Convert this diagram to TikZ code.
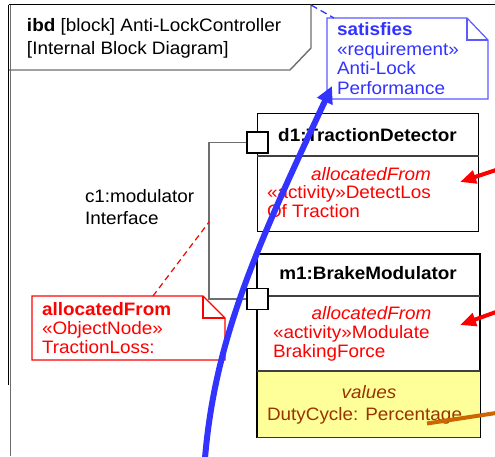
\documentclass[tikz,border=0pt]{standalone}
\usepackage{fontspec}
\setmainfont{Liberation Sans}[FakeStretch=1.05]
\usetikzlibrary{arrows.meta}

\definecolor{reqblue}{RGB}{51,51,255}
\definecolor{reqborder}{RGB}{90,90,255}
\definecolor{allocred}{RGB}{255,0,0}
\definecolor{valbrown}{RGB}{153,51,0}
\definecolor{valfill}{RGB}{255,255,153}
\definecolor{traceorange}{RGB}{204,102,0}
\definecolor{linegray}{RGB}{110,110,110}

\begin{document}
\fontsize{18}{19.5}\selectfont
\begin{tikzpicture}[x=1pt,y=-1pt,
  txt/.style={inner sep=0pt, outer sep=0pt, anchor=base west},
  ctxt/.style={inner sep=0pt, outer sep=0pt, anchor=base},
  blockbox/.style={draw=black, line width=1.3pt, fill=white, inner sep=0pt, anchor=north west},
  blockline/.style={draw=black, line width=1.3pt},
  divider/.style={draw=black!75, line width=1.2pt},
  portbox/.style={draw=black, line width=1.1pt, fill=white, minimum size=21pt, inner sep=0pt},
  connector/.style={draw=linegray, line width=1.5pt},
  framebar/.style={draw=linegray, line width=1.4pt},
  satisfyarrow/.style={draw=reqblue, line width=6pt, -{Triangle[length=17pt,width=16pt]}},
  allocarrow/.style={draw=allocred, line width=4pt, -{Triangle[length=16pt,width=13pt]}},
  tracelink/.style={draw=traceorange, line width=4pt},
]
\useasboundingbox (0,0) rectangle (495,456);

% diagram frame
\draw[draw=black, line width=1.3pt] (8.5,4.5) -- (495,4.5);
\draw[draw=black, line width=1.2pt] (8.5,4.5) -- (8.5,385);
\draw[framebar] (10.5,4.5) -- (10.5,456);
\draw[framebar] (311,4.5) -- (311,48) -- (290,70) -- (9,70);
\node[txt] (hdr1) at (27,31) {\textbf{ibd} [block] Anti-LockController};
\node[txt] (hdr2) at (27,54) {[Internal Block Diagram]};

% requirement note
\coordinate (rqA) at (327,18);
\coordinate (rqB) at (488,99);
\fill[white] (327,18) -- (467,18) -- (488,40) -- (488,99) -- (327,99) -- cycle;
\draw[draw=reqborder, line width=1.2pt] (327,18) -- (467,18) -- (488,40) -- (488,99) -- (327,99) -- cycle;
\draw[draw=reqborder, line width=1.2pt] (467,18) -- (467,40) -- (488,40);
\node[txt, text=reqblue, font=\bfseries] (rq1) at (337,35.5) {satisfies};
\node[txt, text=reqblue] (rq2) at (337,55) {«requirement»};
\node[txt, text=reqblue] (rq3) at (337,74.5) {Anti-Lock};
\node[txt, text=reqblue] (rq4) at (337,94) {Performance};
\coordinate (hdrCorner) at (311,5);
\coordinate (rqCorner) at (334,18);
\draw[draw=reqblue, line width=1.3pt, dash pattern=on 7pt off 4pt] (hdrCorner) -- (rqCorner);

% part d1
\node[blockbox, minimum width=221pt, minimum height=118pt] (d1) at (257,113) {};
\draw[divider] ([yshift=-43pt]d1.north west) -- ([yshift=-43pt]d1.north east);
\node[ctxt, font=\bfseries] (d1t) at (367.5,141) {d1:TractionDetector};
\node[ctxt, text=allocred, font=\itshape] (d1a) at (371,180) {allocatedFrom};
\node[txt, text=allocred] (d1b) at (267,198.5) {«activity»DetectLos};
\node[txt, text=allocred] (d1c) at (267,217) {Of Traction};

% part m1
\node[blockbox, minimum width=222pt, minimum height=182pt] (m1) at (257,254) {};
\fill[valfill] ([yshift=-117pt]m1.north west) rectangle (m1.south east);
\draw[blockline] (m1.north west) rectangle (m1.south east);
\draw[divider] ([yshift=-42pt]m1.north west) -- ([yshift=-42pt]m1.north east);
\draw[divider] ([yshift=-117pt]m1.north west) -- ([yshift=-117pt]m1.north east);
\draw[draw=valbrown!70!black, line width=1.3pt] (m1.south west) -- (m1.south east);
\node[ctxt, font=\bfseries] (m1t) at (368,279.5) {m1:BrakeModulator};
\node[ctxt, text=allocred, font=\itshape] (m1a) at (371.5,319) {allocatedFrom};
\node[txt, text=allocred] (m1b) at (273,338) {«activity»Modulate};
\node[txt, text=allocred] (m1c) at (273,357) {BrakingForce};
\node[ctxt, text=valbrown, font=\itshape] (m1v) at (369,398) {values};
\node[txt, text=valbrown] (m1d) at (267,420) {DutyCycle: Percentage};

% ports and connector c1
\node[portbox] (p1) at (257.5,142.5) {};
\node[portbox] (p2) at (257.5,299) {};
\coordinate (c1bend) at (209,142.5);
\draw[connector] (p1.west) -- (c1bend) |- (p2.west);
\node[txt] (c1a) at (85,202) {c1:modulator};
\node[txt] (c1b) at (85,224.5) {Interface};

% allocation note on the connector
\fill[white] (32,296) -- (203,296) -- (225,318) -- (225,360) -- (32,360) -- cycle;
\draw[draw=allocred, line width=1.1pt] (32,296) -- (203,296) -- (225,318) -- (225,360) -- (32,360) -- cycle;
\draw[draw=allocred, line width=1.1pt] (203,296) -- (203,318) -- (225,318);
\node[txt, text=allocred, font=\bfseries] (an1) at (42,315.5) {allocatedFrom};
\node[txt, text=allocred] (an2) at (42,334.5) {«ObjectNode»};
\node[txt, text=allocred] (an3) at (42,353.5) {TractionLoss:};
\coordinate (anTop) at (153,296);
\coordinate (c1mid) at (209,222);
\draw[draw=allocred, line width=1.2pt, dash pattern=on 6pt off 4pt] (anTop) -- (c1mid);

% satisfy relationship
\coordinate (satFoot) at (205,458);
\coordinate (satTip) at (332,86);
\draw[satisfyarrow] (satFoot) .. controls (215,340) and (255,250) .. (satTip);

% allocation and trace links entering from the right
\coordinate (alloc1Out) at (496,170);
\coordinate (alloc1In) at (460,182);
\coordinate (alloc2Out) at (496,312);
\coordinate (alloc2In) at (460,325);
\draw[allocarrow] (alloc1Out) -- (alloc1In);
\draw[allocarrow] (alloc2Out) -- (alloc2In);
\coordinate (traceOut) at (496,413);
\coordinate (traceIn) at (427,423.5);
\draw[tracelink] (traceOut) -- (traceIn);
\end{tikzpicture}
\end{document}
